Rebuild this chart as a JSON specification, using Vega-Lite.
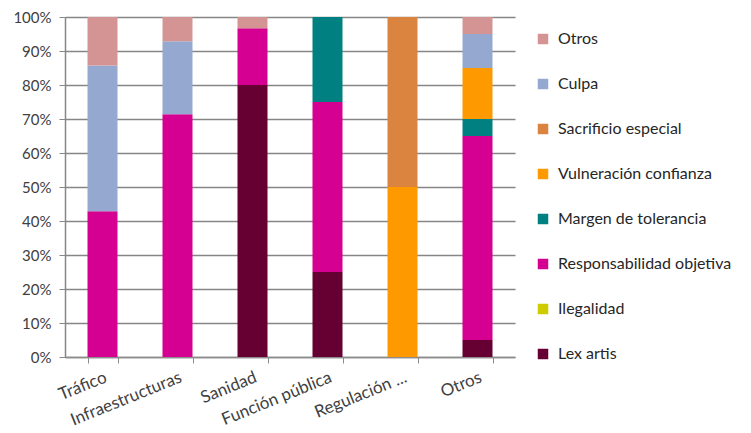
{
  "$schema": "https://vega.github.io/schema/vega-lite/v6.json",
  "width": 450,
  "height": 340,
  "autosize": {"type": "none"},
  "padding": {"left": 65, "top": 17, "right": 236, "bottom": 76},
  "background": "white",
  "config": {
    "view": {"stroke": null},
    "font": "Lato",
    "axis": {"labelFont": "Lato", "labelColor": "#404040", "labelFontSize": 15}
  },
  "data": {
    "values": [
      {"categoria": "Tráfico", "criterio": "Responsabilidad objetiva", "valor": 0.4286},
      {"categoria": "Tráfico", "criterio": "Culpa", "valor": 0.4286},
      {"categoria": "Tráfico", "criterio": "Otros", "valor": 0.1428},
      {"categoria": "Infraestructuras", "criterio": "Responsabilidad objetiva", "valor": 0.7143},
      {"categoria": "Infraestructuras", "criterio": "Culpa", "valor": 0.2143},
      {"categoria": "Infraestructuras", "criterio": "Otros", "valor": 0.0714},
      {"categoria": "Sanidad", "criterio": "Lex artis", "valor": 0.8},
      {"categoria": "Sanidad", "criterio": "Responsabilidad objetiva", "valor": 0.1667},
      {"categoria": "Sanidad", "criterio": "Otros", "valor": 0.0333},
      {"categoria": "Función pública", "criterio": "Lex artis", "valor": 0.25},
      {"categoria": "Función pública", "criterio": "Responsabilidad objetiva", "valor": 0.5},
      {"categoria": "Función pública", "criterio": "Margen de tolerancia", "valor": 0.25},
      {"categoria": "Regulación ...", "criterio": "Vulneración confianza", "valor": 0.5},
      {"categoria": "Regulación ...", "criterio": "Sacrificio especial", "valor": 0.5},
      {"categoria": "Otros", "criterio": "Lex artis", "valor": 0.05},
      {"categoria": "Otros", "criterio": "Responsabilidad objetiva", "valor": 0.6},
      {"categoria": "Otros", "criterio": "Margen de tolerancia", "valor": 0.05},
      {"categoria": "Otros", "criterio": "Vulneración confianza", "valor": 0.15},
      {"categoria": "Otros", "criterio": "Culpa", "valor": 0.1},
      {"categoria": "Otros", "criterio": "Otros", "valor": 0.05}
    ]
  },
  "transform": [
    {"calculate": "indexof(['Lex artis','Ilegalidad','Responsabilidad objetiva','Margen de tolerancia','Vulneración confianza','Sacrificio especial','Culpa','Otros'], datum.criterio)", "as": "orden"}
  ],
  "mark": {"type": "bar"},
  "encoding": {
    "x": {
      "field": "categoria",
      "type": "nominal",
      "sort": ["Tráfico", "Infraestructuras", "Sanidad", "Función pública", "Regulación ...", "Otros"],
      "scale": {"paddingInner": 0.6, "paddingOuter": 0.3},
      "axis": {
        "title": null,
        "labelAngle": -22,
        "labelAlign": "right",
        "labelBaseline": "top",
        "labelPadding": 6,
        "labelLimit": 200,
        "labelFontSize": 17,
        "tickBand": "extent",
        "tickColor": "#8c8c8c",
        "tickSize": 6,
        "domainColor": "#8c8c8c",
        "domainWidth": 1.5,
        "grid": false
      }
    },
    "y": {
      "field": "valor",
      "type": "quantitative",
      "stack": "zero",
      "scale": {"domain": [0, 1], "nice": false},
      "axis": {
        "title": null,
        "values": [0, 0.1, 0.2, 0.3, 0.4, 0.5, 0.6, 0.7, 0.8, 0.9, 1],
        "format": ".0%",
        "grid": true,
        "gridColor": "#868686",
        "gridWidth": 1.5,
        "tickColor": "#868686",
        "tickSize": 6,
        "domainColor": "#868686",
        "domainWidth": 1.5,
        "labelPadding": 8
      }
    },
    "color": {
      "field": "criterio",
      "type": "nominal",
      "scale": {
        "domain": ["Otros", "Culpa", "Sacrificio especial", "Vulneración confianza", "Margen de tolerancia", "Responsabilidad objetiva", "Ilegalidad", "Lex artis"],
        "range": ["#D49494", "#95A9D0", "#DA8440", "#FF9900", "#008080", "#D50092", "#CCCC00", "#660033"]
      },
      "legend": {
        "title": null,
        "orient": "none",
        "legendX": 470,
        "legendY": 14,
        "symbolType": "square",
        "symbolSize": 110,
        "symbolStrokeWidth": 0,
        "labelFontSize": 16,
        "labelFont": "Lato",
        "labelColor": "#262626",
        "labelOffset": 7,
        "rowPadding": 29,
        "labelLimit": 300
      }
    },
    "order": {"field": "orden", "type": "quantitative", "sort": "ascending"}
  }
}
